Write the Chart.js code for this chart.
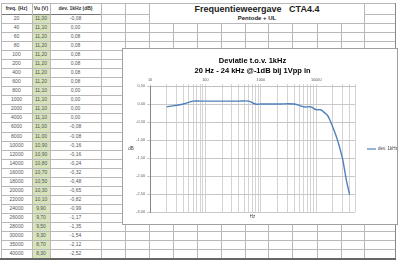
<!DOCTYPE html>
<html>
<head>
  <title>Frequentieweergave CTA4.4</title>
  <script src="https://cdn.jsdelivr.net/npm/chart.js"></script>
  <style>
    body {
      margin: 0;
      width: 400px;
      height: 263px;
      overflow: hidden;
      background-color: #fff;
      font-family: 'Liberation Sans', Arial, sans-serif;
      position: relative;
    }
    .hl, .vl {
      position: absolute;
      background-color: #b8b8b8;
    }
    .hl { height: 1px; }
    .vl { width: 1px; }
    .cell {
      position: absolute;
      text-align: center;
      font-size: 5px;
      color: #555;
      white-space: nowrap;
    }
    .head {
      font-weight: bold;
      color: #333;
    }
    .green {
      position: absolute;
      background-color: #d8e4bc;
    }
    .sheet-title {
      position: absolute;
      left: 150px;
      top: 4px;
      width: 214px;
      height: 19px;
      background-color: #fff;
      text-align: center;
      font-weight: bold;
      color: #222;
    }
    .sheet-title .t1 { font-size: 9px; line-height: 9px; margin-top: 1px; white-space: pre; }
    .sheet-title .t2 { font-size: 6px; line-height: 8px; }
    .chart-box {
      position: absolute;
      left: 122px;
      top: 48px;
      width: 274px;
      height: 175px;
      border: 1px solid #a0a0a0;
      background-color: #fff;
    }
  </style>
</head>
<body>
  <div id="sheet"></div>
  <div class="sheet-title">
    <div class="t1">Frequentieweergave   CTA4.4</div>
    <div class="t2">Pentode + UL</div>
  </div>
  <div class="chart-box">
    <canvas id="devChart" width="274" height="175"></canvas>
  </div>

  <script>
    // measured data (read from the sheet)
    const freqHz = [20, 40, 60, 80, 100, 200, 400, 600, 800, 1000, 2000, 4000, 6000, 8000,
      10000, 12000, 14000, 16000, 18000, 20000, 22000, 24000, 26000, 28000, 30000, 35000, 40000];
    const vuVolt = [11.00, 11.10, 11.20, 11.20, 11.20, 11.20, 11.20, 11.20, 11.10, 11.10, 11.10, 11.10, 11.00, 11.00,
      10.90, 10.90, 10.80, 10.70, 10.50, 10.30, 10.10, 9.90, 9.70, 9.50, 9.30, 8.70, 8.30];
    const devDb = [-0.08, 0.00, 0.08, 0.08, 0.08, 0.08, 0.08, 0.08, 0.00, 0.00, 0.00, 0.00, -0.08, -0.08,
      -0.16, -0.16, -0.24, -0.32, -0.48, -0.65, -0.82, -0.99, -1.17, -1.35, -1.54, -2.12, -2.52];
    const headers = ['freq. (Hz)', 'Vu (V)', 'dev. 1kHz (dB)'];
    const xLabelValues = [10, 100, 1000, 10000];
    const seriesName = 'dev. 1kHz';

    const nl = v => v.toFixed(2).replace('.', ',');

    // ---- spreadsheet background ----
    const sheet = document.getElementById('sheet');
    const colX = [1, 32, 50, 101, 125, 149, 173, 197, 221, 245, 268, 292, 317, 341, 364, 395];
    const topY = 3, headY = 14, rowH = 9.04;
    const bottomY = headY + freqHz.length * rowH;

    function add(cls, css, text) {
      const d = document.createElement('div');
      d.className = cls;
      Object.assign(d.style, css);
      if (text !== undefined) d.textContent = text;
      sheet.appendChild(d);
      return d;
    }

    add('green', { left: colX[1] + 'px', top: headY + 'px', width: (colX[2] - colX[1]) + 'px', height: (bottomY - headY) + 'px' });

    add('hl', { left: colX[0] + 'px', top: topY + 'px', width: (colX[colX.length - 1] - colX[0]) + 'px' });
    add('hl', { left: colX[0] + 'px', top: headY + 'px', width: (colX[colX.length - 1] - colX[0]) + 'px' });
    add('hl', { left: colX[0] + 'px', top: headY + 'px', width: (colX[3] - colX[0]) + 'px', backgroundColor: '#777' });
    add('hl', { left: colX[0] + 'px', top: headY + 9 + 'px', width: (colX[colX.length - 1] - colX[0]) + 'px' });
    for (let i = 1; i <= freqHz.length; i++) {
      const y = headY + i * rowH;
      add('hl', { left: colX[0] + 'px', top: y + 'px', width: (colX[colX.length - 1] - colX[0]) + 'px' });
    }
    add('hl', { left: '0px', top: bottomY + 'px', width: '396px', height: '2px', backgroundColor: '#666' });
    colX.forEach((x, i) => {
      add('vl', { left: x + 'px', top: topY + 'px', height: (bottomY - topY) + 'px', backgroundColor: i === colX.length - 1 ? '#888' : '#b8b8b8' });
    });

    headers.forEach((h, i) => {
      add('cell head', { left: colX[i] + 'px', width: (colX[i + 1] - colX[i]) + 'px', top: topY + 'px', lineHeight: (headY - topY) + 'px' }, h);
    });
    freqHz.forEach((f, r) => {
      const css = w => ({ top: headY + r * rowH + 'px', lineHeight: rowH + 'px', left: colX[w] + 'px', width: (colX[w + 1] - colX[w]) + 'px' });
      add('cell', css(0), String(f));
      add('cell', css(1), nl(vuVolt[r]));
      add('cell', css(2), nl(devDb[r]));
    });

    // ---- chart ----
    const extras = {
      id: 'extras',
      afterDraw(chart) {
        const ctx = chart.ctx;
        const a = chart.chartArea;
        const ds = chart.data.datasets[0];
        const midY = (a.top + a.bottom) / 2;
        ctx.save();
        ctx.fillStyle = '#404040';
        ctx.font = '4.5px "Liberation Sans", Arial, sans-serif';
        ctx.textBaseline = 'middle';
        ctx.textAlign = 'center';
        ctx.fillText('dB', 8, midY);
        ctx.fillText('Hz', (a.left + a.right) / 2, a.bottom + 5);
        // legend
        ctx.strokeStyle = ds.borderColor;
        ctx.lineWidth = 1.2;
        ctx.beginPath();
        ctx.moveTo(a.right + 12, midY);
        ctx.lineTo(a.right + 21, midY);
        ctx.stroke();
        ctx.textAlign = 'left';
        ctx.fillText(ds.label, a.right + 23, midY);
        ctx.restore();
      }
    };

    const ctx = document.getElementById('devChart').getContext('2d');
    new Chart(ctx, {
      type: 'line',
      data: {
        datasets: [{
          label: seriesName,
          data: freqHz.map((f, i) => ({ x: f, y: devDb[i] })),
          borderColor: '#4f81bd',
          borderWidth: 1.4,
          pointRadius: 0,
          tension: 0.4,
          fill: false
        }]
      },
      options: {
        responsive: false,
        animation: false,
        layout: { padding: { left: 0, right: 42, top: 0, bottom: 12 } },
        plugins: {
          legend: { display: false },
          tooltip: { enabled: false },
          title: {
            display: true,
            fullSize: false,
            text: ['Deviatie t.o.v. 1kHz', '20 Hz - 24 kHz @-1dB bij 1Vpp in'],
            color: '#000',
            font: { family: "'Liberation Sans', Arial, sans-serif", size: 7.5, weight: 'bold', lineHeight: 1.4 },
            padding: { top: 6.5, bottom: 0 }
          }
        },
        scales: {
          x: {
            type: 'logarithmic',
            position: 'top',
            min: 10,
            max: 50000,
            afterBuildTicks(scale) {
              scale.ticks = scale.ticks.filter(t => {
                const s = t.value / Math.pow(10, Math.floor(Math.log10(t.value) + 1e-9));
                return Math.abs(s - Math.round(s)) < 1e-6;
              });
            },
            afterFit(scale) { scale.height = 9.5; },
            ticks: {
              autoSkip: false,
              maxRotation: 0,
              padding: 2,
              color: '#595959',
              font: { family: "'Liberation Sans', Arial, sans-serif", size: 3.8 },
              callback: v => xLabelValues.includes(v) ? String(v) : ''
            },
            grid: { color: '#d4d4d4', lineWidth: 1, tickLength: 2 },
            border: { color: '#c0c0c0' }
          },
          y: {
            min: -3,
            max: 0.5,
            afterFit(scale) { scale.width = 27; },
            ticks: {
              stepSize: 0.5,
              padding: 2,
              color: '#595959',
              font: { family: "'Liberation Sans', Arial, sans-serif", size: 3.8 },
              callback: v => nl(v)
            },
            grid: { color: '#c8c8c8', lineWidth: 1, tickLength: 3 },
            border: { color: '#868686' }
          }
        }
      },
      plugins: [extras]
    });
  </script>
</body>
</html>
